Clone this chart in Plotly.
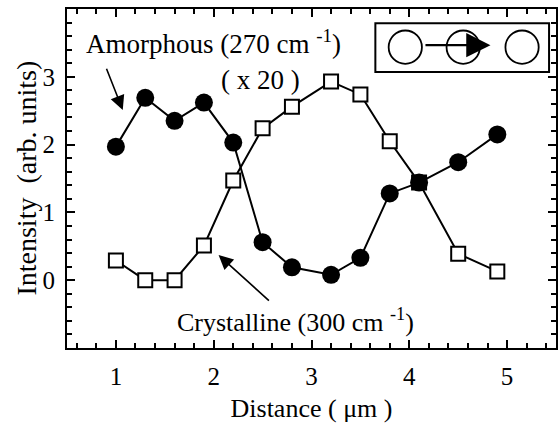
import plotly.graph_objects as go

# Data
distance = [1.0, 1.3, 1.6, 1.9, 2.2, 2.5, 2.8, 3.2, 3.5, 3.8, 4.1, 4.5, 4.9]
amorphous = [1.97, 2.69, 2.35, 2.62, 2.03, 0.56, 0.19, 0.08, 0.33, 1.28, 1.44, 1.74, 2.15]
crystalline = [0.29, 0.0, 0.0, 0.51, 1.47, 2.24, 2.56, 2.93, 2.74, 2.05, 1.44, 0.39, 0.13]
x_ticks = [1, 2, 3, 4, 5]
y_ticks = [0, 1, 2, 3]

FONT = "Liberation Serif"

fig = go.Figure()
fig.add_trace(go.Scatter(
    x=distance, y=crystalline, mode="lines+markers",
    line=dict(color="black", width=2),
    marker=dict(symbol="square", size=14, color="white",
                line=dict(color="black", width=2)),
    showlegend=False, cliponaxis=False))
fig.add_trace(go.Scatter(
    x=distance, y=amorphous, mode="lines+markers",
    line=dict(color="black", width=2),
    marker=dict(symbol="circle", size=18, color="black",
                line=dict(color="black", width=0)),
    showlegend=False, cliponaxis=False))

axis_common = dict(
    showline=True, linecolor="black", linewidth=2, mirror="ticks",
    ticks="inside", ticklen=8, tickwidth=1.5, tickcolor="black",
    showgrid=False, zeroline=False, automargin=False,
    tickfont=dict(family=FONT, size=25, color="black"),
)

fig.update_xaxes(
    range=[0.5, 5.5], tickvals=x_ticks, ticklabelstandoff=5,
    minor=dict(dtick=0.2, tick0=0, ticks="inside", ticklen=5,
               tickwidth=1.5, tickcolor="black", showgrid=False),
    title=dict(text="Distance ( μm )", font=dict(family=FONT, size=26, color="black"),
               standoff=10),
    **axis_common)
fig.update_yaxes(
    range=[-1, 4], tickvals=y_ticks, ticklabelstandoff=5,
    minor=dict(dtick=0.2, tick0=0, ticks="inside", ticklen=5,
               tickwidth=1.5, tickcolor="black", showgrid=False),
    **axis_common)

afont = dict(family=FONT, size=27, color="black")
annotations = [
    dict(xref="paper", yref="paper", x=-0.0837, y=0.5, xanchor="center", yanchor="middle",
         text="Intensity  (arb. units)", textangle=-90, showarrow=False,
         font=dict(family=FONT, size=28, color="black")),
    dict(x=2.0, y=3.51, text="Amorphous (270 cm <sup>-1</sup>)", showarrow=False, font=afont),
    dict(x=2.48, y=2.95, text="( x 20 )", showarrow=False, font=afont),
    dict(x=2.837, y=-0.59, text="Crystalline (300 cm <sup>-1</sup>)", showarrow=False,
         font=dict(family=FONT, size=26, color="black")),
    dict(x=1.07, y=2.51, ax=0.898, ay=3.14, axref="x", ayref="y", text="",
         showarrow=True, arrowhead=2, arrowsize=1.8, arrowwidth=1.6, arrowcolor="black"),
    dict(x=2.05, y=0.37, ax=2.58, ay=-0.32, axref="x", ayref="y", text="",
         showarrow=True, arrowhead=2, arrowsize=1.8, arrowwidth=1.6, arrowcolor="black"),
    dict(x=4.83, y=3.466, ax=4.15, ay=3.466, axref="x", ayref="y", text="",
         showarrow=True, arrowhead=2, arrowsize=2.2, arrowwidth=2.2, arrowcolor="black"),
]
fig.update_layout(annotations=annotations)

# Inset schematic
shapes = [dict(type="rect", xref="x", yref="y", x0=3.653, x1=5.429, y0=3.07, y1=3.79,
               line=dict(color="black", width=2))]
rx, ry = 0.170, 0.246
for cx in [3.959, 4.551, 5.153]:
    shapes.append(dict(type="circle", xref="x", yref="y",
                       x0=cx - rx, x1=cx + rx, y0=3.437 - ry, y1=3.437 + ry,
                       line=dict(color="black", width=1.8)))
fig.update_layout(shapes=shapes)

fig.update_layout(
    width=558, height=431,
    margin=dict(l=67, r=2, t=9, b=83),
    plot_bgcolor="white", paper_bgcolor="white",
)

fig.write_html("out.html", config={"displayModeBar": False},
               post_script="document.body.style.margin='0';document.body.style.overflow='hidden';")
